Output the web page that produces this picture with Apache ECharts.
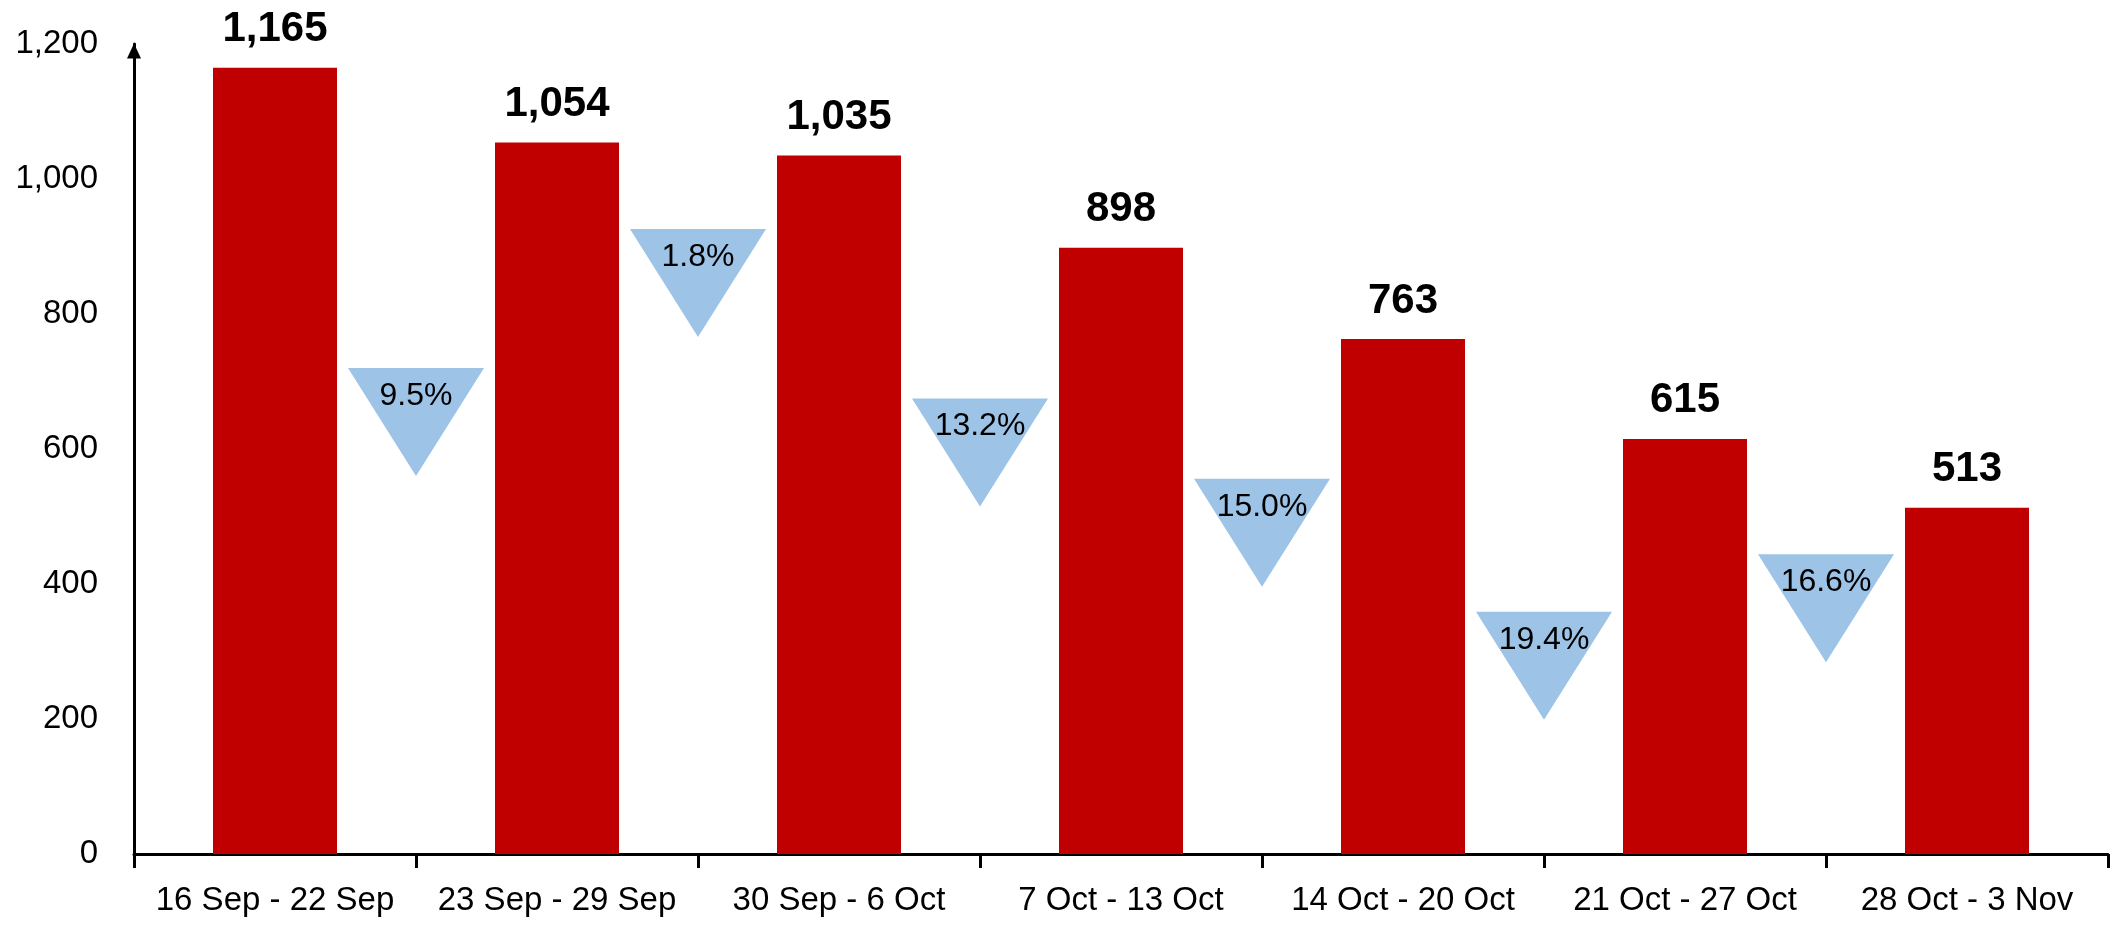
<!DOCTYPE html>
<html>
<head>
<meta charset="utf-8">
<script src="https://cdn.jsdelivr.net/npm/echarts@6/dist/echarts.min.js"></script>
<style>
html, body { margin: 0; padding: 0; background: #fff; }
#chart { width: 2111px; height: 925px; }
</style>
</head>
<body>
<div id="chart"></div>
<script>
// weekly totals
var weeks = ['16 Sep - 22 Sep', '23 Sep - 29 Sep', '30 Sep - 6 Oct', '7 Oct - 13 Oct', '14 Oct - 20 Oct', '21 Oct - 27 Oct', '28 Oct - 3 Nov'];
var totals = [1165, 1054, 1035, 898, 763, 615, 513];
// week-on-week drop (%), shown in the blue triangles between bars
var drops = [9.5, 1.8, 13.2, 15.0, 19.4, 16.6];
// height the triangles sit at
var dropLevel = [640, 846, 595, 476, 279, 364];
var yTicks = [0, 200, 400, 600, 800, 1000, 1200];

var font = 'Liberation Sans, Arial, sans-serif';
function fmt(v) { return Number(v).toLocaleString('en-US'); }

var dropData = [];
for (var i = 0; i < drops.length; i++) {
	dropData.push([i + 1, dropLevel[i], drops[i]]);
}

var chart = echarts.init(document.getElementById('chart'));
chart.setOption({
	animation: false,
	grid: { left: 134, right: 3, top: 44, bottom: 71, containLabel: false },
	xAxis: [{
		type: 'category',
		data: weeks,
		axisLine: { lineStyle: { color: '#000', width: 3 } },
		axisTick: { show: true, length: 14, lineStyle: { color: '#000', width: 3 } },
		axisLabel: { color: '#000', fontFamily: font, fontSize: 33, margin: 30, interval: 0 },
		splitLine: { show: false }
	}, {
		type: 'value',
		min: 0,
		max: weeks.length,
		show: false
	}],
	yAxis: {
		type: 'value',
		min: yTicks[0],
		max: yTicks[yTicks.length - 1],
		interval: 200,
		axisLine: {
			show: true,
			symbol: ['none', 'triangle'],
			symbolSize: [14, 15],
			symbolOffset: [0, -7],
			lineStyle: { color: '#000', width: 3 }
		},
		axisTick: { show: false },
		splitLine: { show: false },
		axisLabel: {
			color: '#000', fontFamily: font, fontSize: 33, margin: 36,
			padding: [6, 0, 0, 0],
			formatter: function (v) { return fmt(v); }
		}
	},
	series: [{
		type: 'bar',
		xAxisIndex: 0,
		data: totals,
		barWidth: 124,
		itemStyle: { color: '#C00000' },
		label: {
			show: true,
			position: 'top',
			distance: 17,
			color: '#000',
			fontFamily: font,
			fontWeight: 'bold',
			fontSize: 42,
			formatter: function (p) { return fmt(p.value); }
		},
		emphasis: { disabled: true }
	}, {
		type: 'scatter',
		xAxisIndex: 1,
		data: dropData,
		symbol: 'triangle',
		symbolRotate: 180,
		symbolSize: [136, 108],
		itemStyle: { color: '#9DC3E6', opacity: 1 },
		label: {
			show: true,
			position: 'inside',
			offset: [0, -26],
			color: '#000',
			fontFamily: font,
			fontSize: 32,
			formatter: function (p) { return p.value[2].toFixed(1) + '%'; }
		},
		emphasis: { disabled: true }
	}]
});
</script>
</body>
</html>
